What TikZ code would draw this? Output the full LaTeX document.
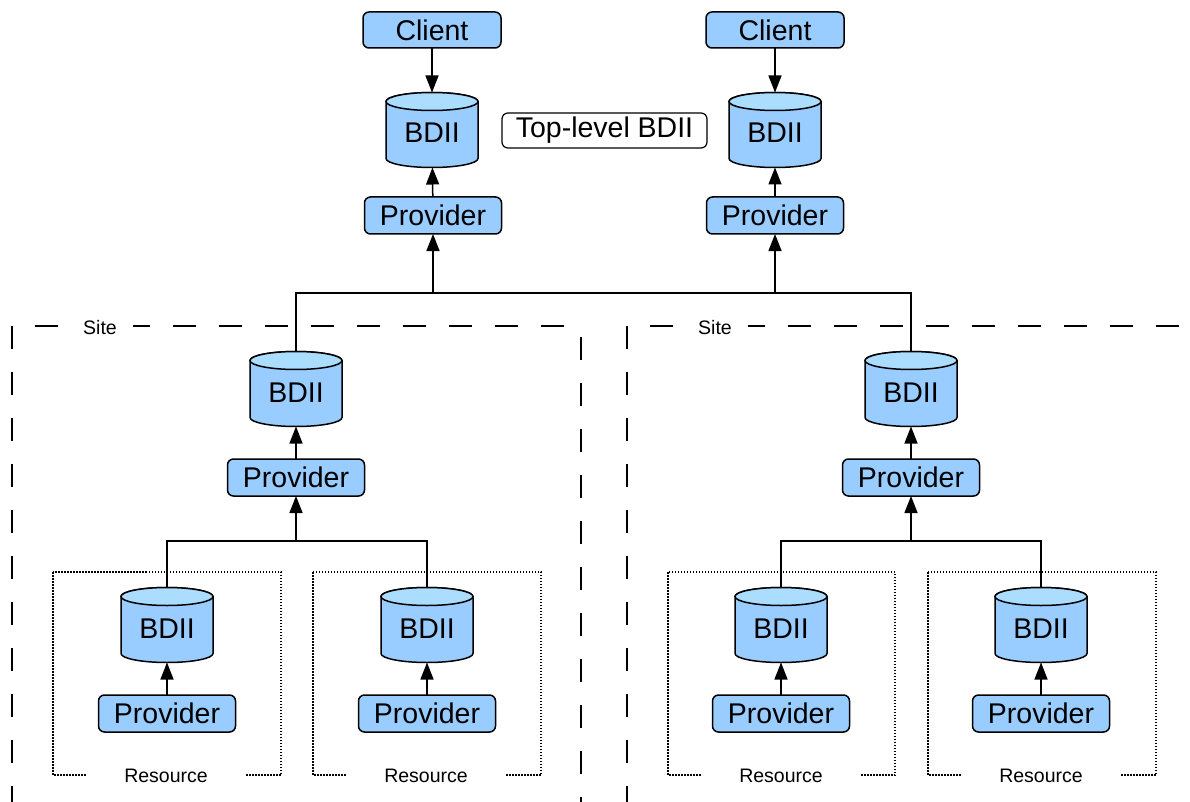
\documentclass[tikz,border=0pt]{standalone}
\usepackage{fontspec}
\setmainfont{Liberation Sans}
\usetikzlibrary{arrows.meta,backgrounds}
\definecolor{boxblue}{HTML}{99CCFF}
\definecolor{topblue}{HTML}{AADDFF}
\newcommand\drawcyl[1]{%
 \filldraw[fill=boxblue, line width=1.5pt] ([yshift=-9pt]#1.north west) -- ([yshift=9pt]#1.south west)
   arc[start angle=180,end angle=360,x radius=46pt,y radius=9pt] -- ([yshift=-9pt]#1.north east)
   arc[start angle=0,end angle=180,x radius=46pt,y radius=9pt] -- cycle;
 \filldraw[fill=topblue, line width=1.5pt] ([yshift=-9pt]#1.north) ellipse[x radius=46pt,y radius=9pt];}
\tikzset{
 bigfont/.style={font=\fontsize{28.5}{32}\selectfont},
 smallfont/.style={font=\fontsize{19.5}{22}\selectfont},
 blubox/.style={draw, line width=1.5pt, rounded corners=6pt, fill=boxblue, minimum width=137pt, minimum height=37pt, inner sep=0pt, outer sep=0pt, bigfont},
 cyl/.style={minimum width=92pt, minimum height=75pt, inner sep=0pt, outer sep=0pt, text height=26pt, text depth=0pt, bigfont},
 arr/.style={-{Triangle[length=17pt,width=13pt]}, line width=1.5pt},
 conn/.style={line width=1.5pt},
 sitebox/.style={line width=1.5pt, dash pattern=on 23pt off 23pt},
 resbox/.style={line width=1.2pt, dash pattern=on 1.5pt off 1.5pt},
 sitelab/.style={fill=white, inner xsep=16pt, inner ysep=2pt, smallfont},
 reslab/.style={fill=white, inner xsep=38pt, inner ysep=2pt, smallfont},
}
\begin{document}
\begin{tikzpicture}[x=1pt,y=-1pt]
\useasboundingbox (0,0) rectangle (1190,802);
% site boxes
\draw[sitebox] (12,326) -- (12,830);
\draw[sitebox, dash phase=23pt] (12,326) -- (581,326);
\draw[sitebox, dash phase=35pt] (581,326) -- (581,830);
\draw[sitebox] (627,326) -- (627,830);
\draw[sitebox, dash phase=23pt] (627,326) -- (1220,326);
\node[sitelab] (site1) at (100,328) {Site};
\node[sitelab] (site2) at (715,328) {Site};
% resource boxes
\draw[resbox] (53,572) rectangle (281,775);
\draw[resbox] (313,572) rectangle (541,775);
\draw[resbox] (668,572) rectangle (895,775);
\draw[resbox] (928,572) rectangle (1156,775);
\node[reslab] (res1) at (166,776) {Resource};
\node[reslab] (res2) at (426,776) {Resource};
\node[reslab] (res3) at (781,776) {Resource};
\node[reslab] (res4) at (1041,776) {Resource};
% top level
\node[blubox, minimum width=138pt, minimum height=36pt] (cl1) at (432,30) {Client};
\node[blubox, minimum width=138pt, minimum height=36pt] (cl2) at (775,30) {Client};
\node[cyl] (tb1) at (432,130) {BDII};
\node[cyl] (tb2) at (775,130) {BDII};
\node[draw, line width=1.2pt, rounded corners=6pt, fill=white, minimum width=205pt, minimum height=35pt, inner sep=0pt, bigfont] (lab) at (604.5,130.5) {Top-level BDII};
\node[blubox] (tp1) at (433,215.5) {Provider};
\node[blubox] (tp2) at (775,215.5) {Provider};
% site level
\node[cyl] (sb1) at (296,389) {BDII};
\node[cyl] (sb2) at (911,389) {BDII};
\node[blubox] (sp1) at (296,477.5) {Provider};
\node[blubox] (sp2) at (911,477.5) {Provider};
% resource level
\node[cyl] (rb1) at (167,625) {BDII};
\node[cyl] (rb2) at (427,625) {BDII};
\node[cyl] (rb3) at (781,625) {BDII};
\node[cyl] (rb4) at (1041,625) {BDII};
\node[blubox] (rp1) at (167,713.5) {Provider};
\node[blubox] (rp2) at (427,713.5) {Provider};
\node[blubox] (rp3) at (781,713.5) {Provider};
\node[blubox] (rp4) at (1041,713.5) {Provider};
\begin{pgfonlayer}{background}
\foreach \c in {tb1,tb2,sb1,sb2,rb1,rb2,rb3,rb4} {\drawcyl{\c}}
\end{pgfonlayer}
% junctions
\coordinate (j1) at (433,293);
\coordinate (j2) at (775,293);
\coordinate (k1) at (296,541);
\coordinate (k2) at (911,541);
% connectors
\draw[arr] (cl1) -- (tb1);
\draw[arr] (cl2) -- (tb2);
\draw[arr] (tp1) -- (tb1);
\draw[arr] (tp2) -- (tb2);
\draw[conn] (sb1.north) |- (j1) -- (j2) -| (sb2.north);
\draw[arr] (j1) -- (tp1);
\draw[arr] (j2) -- (tp2);
\draw[arr] (sp1) -- (sb1);
\draw[arr] (sp2) -- (sb2);
\draw[conn] (rb1.north) |- (k1) -| (rb2.north);
\draw[conn] (rb3.north) |- (k2) -| (rb4.north);
\draw[arr] (k1) -- (sp1);
\draw[arr] (k2) -- (sp2);
\draw[arr] (rp1) -- (rb1);
\draw[arr] (rp2) -- (rb2);
\draw[arr] (rp3) -- (rb3);
\draw[arr] (rp4) -- (rb4);
\end{tikzpicture}
\end{document}
